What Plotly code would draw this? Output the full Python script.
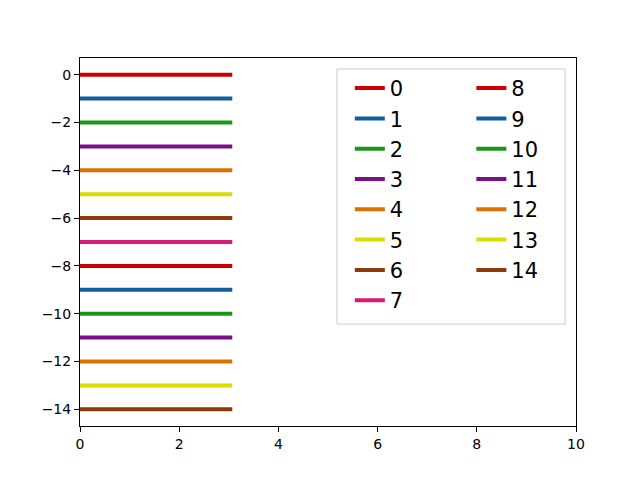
import plotly.graph_objects as go

# one horizontal line per series, drawn from x=0 to x_end at y=-i
names = [str(i) for i in range(15)]
y_vals = [0, -1, -2, -3, -4, -5, -6, -7, -8, -9, -10, -11, -12, -13, -14]
x_start = 0
x_end = 3.07

colors = ["#cc0000", "#105ea0", "#189618", "#781088",
          "#de7000", "#dcdc00", "#8c3a0a", "#d81b78"]

fig = go.Figure()
for i, (name, yv) in enumerate(zip(names, y_vals)):
    fig.add_trace(go.Scatter(
        x=[x_start, x_end], y=[yv, yv], mode="lines", name=name,
        line=dict(color=colors[i % len(colors)], width=4),
        legend="legend" if i < 8 else "legend2",
    ))

legend_style = dict(
    font=dict(family="DejaVu Sans", size=21, color="black"),
    bgcolor="rgba(0,0,0,0)", borderwidth=0,
    xanchor="left", yanchor="top", tracegroupgap=0,
)

# page body adds an 8px offset, so margins are trimmed on the left/top
fig.update_layout(
    width=640, height=480,
    margin=dict(l=72, r=72, t=50, b=62),
    paper_bgcolor="white", plot_bgcolor="white",
    font=dict(family="DejaVu Sans", size=14, color="black"),
    showlegend=True,
    legend=dict(x=0.544, y=0.973, **legend_style),
    legend2=dict(x=0.789, y=0.973, **legend_style),
    shapes=[dict(type="rect", xref="paper", yref="paper",
                 x0=0.518, x1=0.978, y0=0.277, y1=0.970,
                 line=dict(color="#cccccc", width=1), layer="below")],
)

fig.update_xaxes(range=[0, 10], dtick=2, showgrid=False, zeroline=False,
                 showline=True, linecolor="black", linewidth=1, mirror=True,
                 ticks="outside", ticklen=5, tickcolor="black")
fig.update_yaxes(range=[-14.7, 0.7], dtick=2, showgrid=False, zeroline=False,
                 showline=True, linecolor="black", linewidth=1, mirror=True,
                 ticks="outside", ticklen=5, tickcolor="black")

fig.write_html("out.html")
